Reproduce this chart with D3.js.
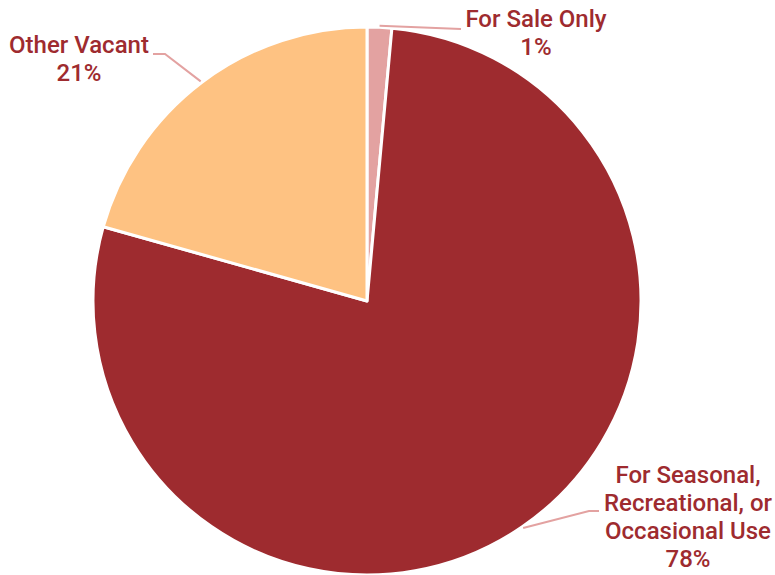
<!DOCTYPE html>
<html>
<head>
<meta charset="utf-8">
<script src="https://cdn.jsdelivr.net/npm/d3@7"></script>
<style>
  html, body { margin: 0; padding: 0; background: #ffffff; }
  svg { display: block; }
  .lbl { font-family: Roboto, "Noto Sans", sans-serif; font-weight: 500; font-size: 24px; fill: #9e2b2f; }
</style>
</head>
<body>
<svg id="chart" width="775" height="575"></svg>
<script>
// Vacant housing units by vacancy status (share of total, %)
const categories = ["For Sale Only", "For Seasonal, Recreational, or Occasional Use", "Other Vacant"];
const labelLines = [["For Sale Only"], ["For Seasonal,", "Recreational, or", "Occasional Use"], ["Other Vacant"]];
const shares = [1.45, 77.92, 20.63];
const colors = ["#e3a2a1", "#9e2b2f", "#fec282"];

const svg = d3.select("#chart");
const cx = 367, cy = 301, radius = 274;

const pie = d3.pie().sort(null).value(d => d.value).startAngle(0).endAngle(2 * Math.PI);
const arcs = pie(categories.map((c, i) => ({ name: c, value: shares[i], lines: labelLines[i] })));
const arc = d3.arc().innerRadius(0).outerRadius(radius);

const g = svg.append("g").attr("transform", `translate(${cx},${cy})`);

g.selectAll("path.slice")
  .data(arcs)
  .join("path")
  .attr("class", "slice")
  .attr("d", arc)
  .attr("fill", (d, i) => colors[i])
  .attr("stroke", "#ffffff")
  .attr("stroke-width", 3)
  .attr("stroke-linejoin", "round");

// Point on the rim at the middle of a slice
function rimPoint(d, r) {
  const a = (d.startAngle + d.endAngle) / 2;
  return [r * Math.sin(a), -r * Math.cos(a)];
}

// Leader-line routing and label anchor for each slice (relative to the pie centre)
const layout = [
  { elbow: null, end: [94, -272], text: [169, -274], anchor: "middle" },
  { elbow: [222, 210], end: [232, 210], text: [321, 182], anchor: "middle" },
  { elbow: [-202, -247], end: [-214, -247], text: [-288, -248], anchor: "middle" }
];

const leaderColor = "#e3a2a1";
arcs.forEach((d, i) => {
  const L = layout[i];
  const start = rimPoint(d, radius + 1.5);
  const pts = [start];
  if (L.elbow) pts.push(L.elbow);
  pts.push(L.end);
  g.append("polyline")
    .attr("points", pts.map(p => p.join(",")).join(" "))
    .attr("fill", "none")
    .attr("stroke", leaderColor)
    .attr("stroke-width", 2);

  const lines = d.data.lines.concat([Math.round(d.data.value) + "%"]);
  const t = g.append("text")
    .attr("class", "lbl")
    .attr("text-anchor", L.anchor)
    .attr("x", L.text[0])
    .attr("y", L.text[1]);
  lines.forEach((ln, k) => {
    t.append("tspan")
      .attr("x", L.text[0])
      .attr("dy", k === 0 ? 0 : 28)
      .text(ln);
  });
});
</script>
</body>
</html>
